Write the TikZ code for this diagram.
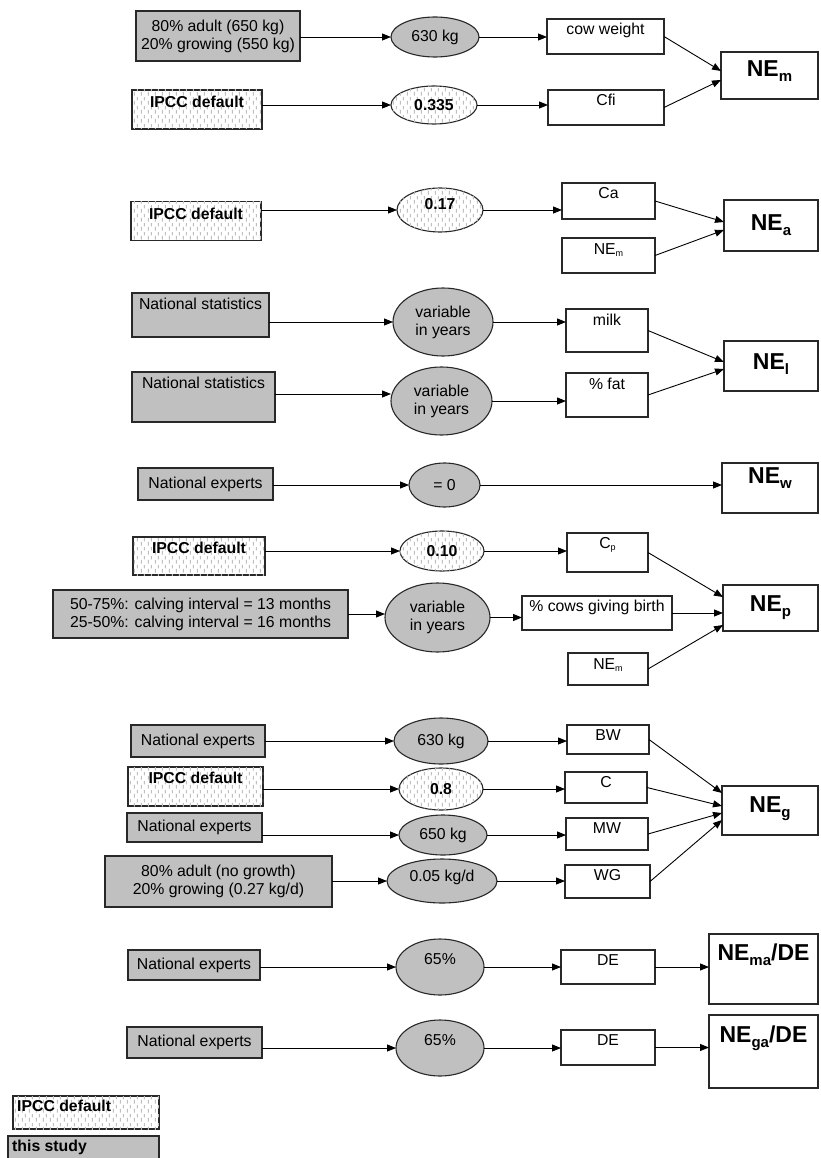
\documentclass[tikz,border=0pt]{standalone}
\usepackage{fontspec}
\setmainfont{Liberation Sans}
\usetikzlibrary{shapes.geometric,arrows.meta,calc,patterns}
\definecolor{studygray}{RGB}{192,192,192}
\definecolor{edgec}{RGB}{40,40,40}
\pgfdeclarepatternformonly{ipccpat}{\pgfpointorigin}{\pgfqpoint{7pt}{9pt}}{\pgfqpoint{7pt}{9pt}}{%
  \pgfsetlinewidth{1.2pt}%
  \pgfpathmoveto{\pgfqpoint{1.5pt}{0.5pt}}\pgfpathlineto{\pgfqpoint{1.5pt}{4.5pt}}%
  \pgfpathmoveto{\pgfqpoint{5pt}{5pt}}\pgfpathlineto{\pgfqpoint{5pt}{8.5pt}}%
  \pgfusepath{stroke}}
\newcommand{\fs}{\fontsize{15.8}{18}\selectfont}
\newcommand{\NEbig}[2][]{{\bfseries\fontsize{23}{26}\selectfont NE\raisebox{-5pt}{\fontsize{15}{15}\selectfont #2}#1}}
\newcommand{\NEsml}[1]{NE\raisebox{-2.5pt}{\fontsize{9}{9}\selectfont #1}}
\tikzset{
  box/.style={rectangle, draw=edgec, line width=1.1pt, inner sep=0pt, outer sep=0pt, align=center},
  study/.style={box, fill=studygray},
  ipcc/.style={box, fill=white, postaction={pattern=ipccpat, pattern color=black!25}},
  wbox/.style={box, fill=white},
  nebox/.style={box, fill=white, line width=1.5pt},
  oval/.style={ellipse},
  toplbl/.style={anchor=north, inner sep=0pt, align=center},
  arr/.style={-{Triangle[length=9pt,width=7pt]}, line width=0.9pt, draw=black},
  bfont/.style={font=\fs\bfseries},
}
\begin{document}
\begin{tikzpicture}[x=1pt,y=-1pt,font=\fs]
\useasboundingbox (0,0) rectangle (820,1158);

% ---------- NE_m ----------
\node[study, minimum width=164pt, minimum height=50pt] (s1) at (218,36) {80\% adult (650 kg)\\20\% growing (550 kg)};
\node[study, oval, minimum width=88pt, minimum height=40pt] (e1) at (435,37) {630 kg};
\node[wbox, minimum width=117pt, minimum height=35pt, label={[toplbl,yshift=-4pt]north:cow weight}] (b1) at (605.5,36.5) {};
\node[ipcc, minimum width=130pt, minimum height=39pt, label={[toplbl,yshift=-6pt,bfont]north:IPCC default}] (s2) at (197,109.5) {};
\node[ipcc, oval, minimum width=86pt, minimum height=38pt, bfont] (e2) at (434,105) {0.335};
\node[wbox, minimum width=116pt, minimum height=35pt, label={[toplbl,yshift=-4pt]north:Cfi}] (b2) at (606,107.5) {};
\node[nebox, minimum width=97pt, minimum height=47pt, label={[toplbl,yshift=-8pt]north:{\NEbig{m}}}] (n1) at (769.5,75.5) {};

% ---------- NE_a ----------
\node[ipcc, minimum width=130pt, minimum height=39pt, label={[toplbl,yshift=-6pt,bfont]north:IPCC default}] (s3) at (196,221) {};
\node[ipcc, oval, minimum width=86pt, minimum height=44pt, label={[bfont,yshift=6pt]center:0.17}] (e3) at (440,210) {};
\node[wbox, minimum width=93pt, minimum height=36pt, label={[toplbl,yshift=-4pt]north:Ca}] (b3) at (608.5,201) {};
\node[wbox, minimum width=93pt, minimum height=35pt, label={[toplbl,yshift=-5pt]north:{\NEsml{m}}}] (b4) at (608.5,255.5) {};
\node[nebox, minimum width=94pt, minimum height=51pt, label={[toplbl,yshift=-14pt]north:{\NEbig{a}}}] (n2) at (771,225.5) {};

% ---------- NE_l ----------
\node[study, minimum width=137pt, minimum height=44pt, label={[toplbl,yshift=-5pt]north:National statistics}] (s4) at (200.5,315) {};
\node[study, oval, minimum width=100pt, minimum height=68pt] (e4) at (443,322) {variable\\in years};
\node[wbox, minimum width=82pt, minimum height=43pt, label={[toplbl,yshift=-5pt]north:milk}] (b5) at (607,330.5) {};
\node[study, minimum width=143pt, minimum height=50pt, label={[toplbl,yshift=-5pt]north:National statistics}] (s5) at (203.5,397) {};
\node[study, oval, minimum width=101pt, minimum height=68pt] (e5) at (441.5,401) {variable\\in years};
\node[wbox, minimum width=82pt, minimum height=44pt, label={[toplbl,yshift=-5pt]north:\% fat}] (b6) at (607,395) {};
\node[nebox, minimum width=94pt, minimum height=50pt, label={[toplbl,yshift=-12pt]north:{\NEbig{l}}}] (n3) at (771,366) {};

% ---------- NE_w ----------
\node[study, minimum width=135pt, minimum height=32pt] (s6) at (205.5,484) {National experts};
\node[study, oval, minimum width=71pt, minimum height=44pt] (e6) at (444.5,485) {= 0};
\node[nebox, minimum width=96pt, minimum height=50pt, label={[toplbl,yshift=-4pt]north:{\NEbig{w}}}] (n4) at (770,488) {};

% ---------- NE_p ----------
\node[ipcc, minimum width=132pt, minimum height=38pt, label={[toplbl,yshift=-5pt,bfont]north:IPCC default}] (s7) at (199,556) {};
\node[ipcc, oval, minimum width=84pt, minimum height=40pt, bfont] (e7) at (442,551) {0.10};
\node[wbox, minimum width=81pt, minimum height=39pt, label={[toplbl,yshift=-4pt]north:{C\raisebox{-2.5pt}{\fontsize{9}{9}\selectfont p}}}] (b7) at (607.5,552.5) {};
\node[study, minimum width=295pt, minimum height=48pt] (s8) at (200.5,614) {50-75\%: calving interval = 13 months\\25-50\%: calving interval = 16 months};
\node[study, oval, minimum width=105pt, minimum height=69pt] (e8) at (437.5,617.5) {variable\\in years};
\node[wbox, minimum width=150pt, minimum height=34pt, label={[toplbl,yshift=-4pt]north:\% cows giving birth}] (b8) at (597,613) {};
\node[wbox, minimum width=80pt, minimum height=32pt, label={[toplbl,yshift=-5pt]north:{\NEsml{m}}}] (b9) at (608,669) {};
\node[nebox, minimum width=95pt, minimum height=46pt, label={[toplbl,yshift=-10pt]north:{\NEbig{p}}}] (n5) at (770.5,608) {};

% ---------- NE_g ----------
\node[study, minimum width=134pt, minimum height=32pt] (s9) at (198,741) {National experts};
\node[study, oval, minimum width=94pt, minimum height=46pt] (e9) at (441,741) {630 kg};
\node[wbox, minimum width=82pt, minimum height=29pt, label={[toplbl,yshift=-4pt]north:BW}] (b10) at (608,739.5) {};
\node[ipcc, minimum width=135pt, minimum height=39pt, label={[toplbl,yshift=-5pt,bfont]north:IPCC default}] (s10) at (195.5,786.5) {};
\node[ipcc, oval, minimum width=84pt, minimum height=42pt, bfont] (e10) at (441,789) {0.8};
\node[wbox, minimum width=82pt, minimum height=31pt, label={[toplbl,yshift=-4pt]north:C}] (b11) at (606,787.5) {};
\node[study, minimum width=135pt, minimum height=29pt] (s11) at (194.5,827.5) {National experts};
\node[study, oval, minimum width=88pt, minimum height=40pt] (e11) at (443,835) {650 kg};
\node[wbox, minimum width=82pt, minimum height=32pt, label={[toplbl,yshift=-4pt]north:MW}] (b12) at (607,834) {};
\node[study, minimum width=227pt, minimum height=51pt] (s12) at (218.5,881.5) {80\% adult (no growth)\\20\% growing (0.27 kg/d)};
\node[study, oval, minimum width=110pt, minimum height=44pt, label={[yshift=4pt]center:0.05 kg/d}] (e12) at (442,881) {};
\node[wbox, minimum width=85pt, minimum height=33pt, label={[toplbl,yshift=-4pt]north:WG}] (b13) at (607.5,881.5) {};
\node[nebox, minimum width=96pt, minimum height=49pt, label={[toplbl,yshift=-10pt]north:{\NEbig{g}}}] (n6) at (770,810.5) {};

% ---------- NE_ma/DE ----------
\node[study, minimum width=132pt, minimum height=30pt] (s13) at (194,965) {National experts};
\node[study, oval, minimum width=88pt, minimum height=56pt, label={[yshift=8pt]center:65\%}] (e13) at (440,967) {};
\node[wbox, minimum width=94pt, minimum height=34pt, label={[toplbl,yshift=-4pt]north:DE}] (b14) at (608,967) {};
\node[nebox, minimum width=109pt, minimum height=70pt, label={[toplbl,yshift=-10pt]north:{\NEbig[/DE]{ma}}}] (n7) at (763.5,969) {};

% ---------- NE_ga/DE ----------
\node[study, minimum width=135pt, minimum height=31pt] (s14) at (194.5,1042.5) {National experts};
\node[study, oval, minimum width=88pt, minimum height=56pt, label={[yshift=8pt]center:65\%}] (e14) at (440,1048) {};
\node[wbox, minimum width=94pt, minimum height=35pt, label={[toplbl,yshift=-4pt]north:DE}] (b15) at (608,1047.5) {};
\node[nebox, minimum width=109pt, minimum height=73pt, label={[toplbl,yshift=-11pt]north:{\NEbig[/DE]{ga}}}] (n8) at (763.5,1051.5) {};

% ---------- legend ----------
\node[ipcc, minimum width=146pt, minimum height=33pt, label={[anchor=north west,inner sep=0pt,xshift=4pt,yshift=-4pt,bfont]north west:IPCC default}] (leg1) at (86,1112.5) {};
\node[study, minimum width=151pt, minimum height=30pt, label={[anchor=north west,inner sep=0pt,xshift=4pt,yshift=-4pt,bfont]north west:this study}] (leg2) at (83.5,1151) {};

% ---------- connectors ----------
\draw[arr] (s1.east |- e1) -- (e1);
\draw[arr] (e1) -- (b1.west |- e1);
\draw[arr] (s2.east |- e2) -- (e2);
\draw[arr] (e2) -- (b2.west |- e2);
\draw[arr] (b1.east) -- ($(n1.west)+(0,-4.5)$);
\draw[arr] (b2.east) -- ($(n1.west)+(0,4.5)$);

\draw[arr] (s3.east |- e3) -- (e3);
\draw[arr] (e3) -- (b3.west |- e3);
\draw[arr] (b3.east) -- ($(n2.west)+(0,-3.5)$);
\draw[arr] (b4.east) -- ($(n2.west)+(0,4.5)$);

\draw[arr] (s4.east |- e4) -- (e4);
\draw[arr] (e4) -- (b5.west |- e4);
\draw[arr] ($(s5.east |- e5)+(0,-7)$) -- ($(e5.west)+(0,-7)$);
\draw[arr] (e5) -- (b6.west |- e5);
\draw[arr] (b5.east) -- ($(n3.west)+(0,-4)$);
\draw[arr] (b6.east) -- ($(n3.west)+(0,3)$);

\draw[arr] (s6.east |- e6) -- (e6);
\draw[arr] (e6) -- (n4.west |- e6);

\draw[arr] (s7.east |- e7) -- (e7);
\draw[arr] (e7) -- (b7.west |- e7);
\draw[arr] (s8.east) -- (s8.east -| e8.west);
\draw[arr] (e8) -- (b8.west |- e8);
\draw[arr] (b7.east) -- ($(n5.west)+(0,-11)$);
\draw[arr] (b8.east) -- ($(n5.west)+(0,5)$);
\draw[arr] (b9.east) -- ($(n5.west)+(0,17)$);

\draw[arr] (s9.east |- e9) -- (e9);
\draw[arr] (e9) -- (b10.west |- e9);
\draw[arr] (s10.east |- e10) -- (e10);
\draw[arr] (e10) -- (b11.west |- e10);
\draw[arr] (s11.east |- e11) -- (e11);
\draw[arr] (e11) -- (b12.west |- e11);
\draw[arr] (s12.east |- e12) -- (e12);
\draw[arr] (e12) -- (b13.west |- e12);
\draw[arr] (b10.east) -- ($(n6.west)+(0,-17.5)$);
\draw[arr] (b11.east) -- ($(n6.west)+(0,-4.5)$);
\draw[arr] (b12.east) -- ($(n6.west)+(0,2.5)$);
\draw[arr] (b13.east) -- ($(n6.west)+(0,9.5)$);

\draw[arr] (s13.east |- e13) -- (e13);
\draw[arr] (e13) -- (b14.west |- e13);
\draw[arr] (b14.east) -- (n7.west |- b14);

\draw[arr] (s14.east |- e14) -- (e14);
\draw[arr] (e14) -- (b15.west |- e14);
\draw[arr] (b15.east) -- (n8.west |- b15);
\end{tikzpicture}
\end{document}
